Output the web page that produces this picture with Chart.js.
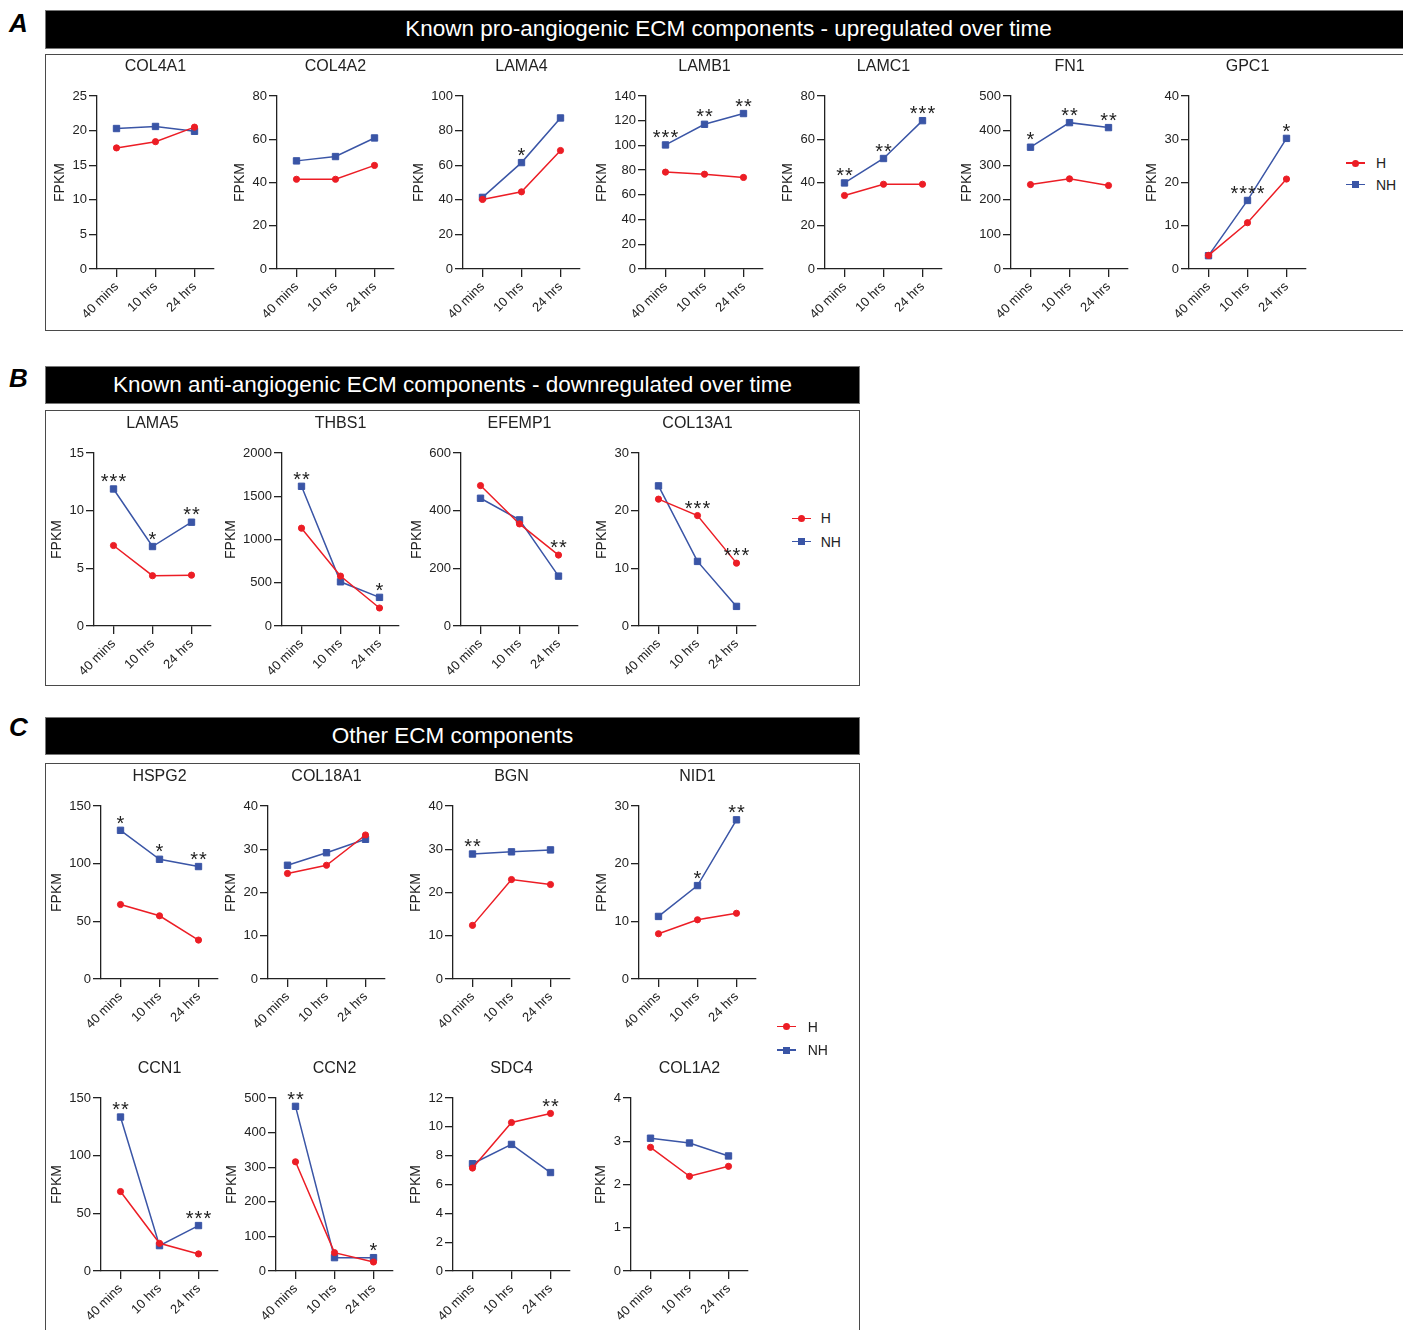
<!DOCTYPE html>
<html><head><meta charset="utf-8">
<script src="https://cdn.jsdelivr.net/npm/chart.js@4.4.1/dist/chart.umd.min.js"></script>
<style>
html,body{margin:0;padding:0;background:#fff;}
body{width:1403px;height:1330px;overflow:hidden;position:relative;font-family:'Liberation Sans',Arial,sans-serif;}
.letter{position:absolute;font-weight:bold;font-style:italic;font-size:26px;line-height:26px;color:#000;}
.bar{position:absolute;background:#000;color:#fff;font-size:22.5px;display:flex;align-items:center;justify-content:center;box-sizing:border-box;border:1px solid #777;white-space:nowrap;}
.box{position:absolute;border:1.6px solid #4a4a4a;box-sizing:border-box;}
canvas{position:absolute;}
.lg{position:absolute;font-size:14px;line-height:16px;color:#222;}
.lg .ln{position:absolute;height:1.5px;width:19px;left:-9.5px;top:-0.75px;}
.lg .mk{position:absolute;width:7px;height:7px;left:-3.5px;top:-3.5px;}
.lg .tx{position:absolute;top:-8px;white-space:nowrap;}
</style></head><body>

<div class="letter" style="left:9px;top:10px;">A</div>
<div class="letter" style="left:9px;top:365px;">B</div>
<div class="letter" style="left:9px;top:714px;">C</div>

<div class="bar" style="left:45px;top:10px;width:1367px;height:38.5px;">Known pro-angiogenic ECM components - upregulated over time</div>
<div class="bar" style="left:45px;top:366px;width:815px;height:38px;">Known anti-angiogenic ECM components - downregulated over time</div>
<div class="bar" style="left:45px;top:717px;width:815px;height:38px;">Other ECM components</div>

<div class="box" style="left:45px;top:54px;width:1400px;height:277px;"></div>
<div class="box" style="left:45px;top:409.5px;width:815px;height:276.5px;"></div>
<div class="box" style="left:45px;top:762.5px;width:815px;height:600px;"></div>

<script>
// ---------------- DATA ----------------
const categories = ['40 mins', '10 hrs', '24 hrs'];
const seriesNames = ['H', 'NH'];

const genesA = ['COL4A1', 'COL4A2', 'LAMA4', 'LAMB1', 'LAMC1', 'FN1', 'GPC1'];
const hA = [
  [17.5, 18.4, 20.5],
  [41.5, 41.5, 47.9],
  [40.2, 44.6, 68.5],
  [78.4, 76.7, 74.1],
  [34.0, 39.2, 39.2],
  [244, 260.6, 241.4],
  [3.15, 10.7, 20.8]
];
const nhA = [
  [20.3, 20.6, 19.9],
  [50.0, 52.0, 60.6],
  [41.4, 61.5, 87.3],
  [100.4, 117.1, 125.8],
  [39.8, 51.1, 68.6],
  [352, 423, 408.7],
  [3.08, 15.85, 30.2]
];
const yMaxA = [25, 80, 100, 140, 80, 500, 40];
const yStepA = [5, 20, 20, 20, 20, 100, 10];
const sigA = [
  ['', '', ''],
  ['', '', ''],
  ['', '*', ''],
  ['***', '**', '**'],
  ['**', '**', '***'],
  ['*', '**', '**'],
  ['', '****', '*']
];

const genesB = ['LAMA5', 'THBS1', 'EFEMP1', 'COL13A1'];
const hB = [
  [6.98, 4.36, 4.41],
  [1131, 577, 208],
  [487, 354, 246],
  [22.0, 19.15, 10.9]
];
const nhB = [
  [11.88, 6.89, 9.0],
  [1615, 511, 331],
  [443, 368, 173],
  [24.3, 11.2, 3.4]
];
const yMaxB = [15, 2000, 600, 30];
const yStepB = [5, 500, 200, 10];
const sigB = [
  ['***', '*', '**'],
  ['**', '', '*'],
  ['', '', '**'],
  ['', '***', '***']
];

const genesC = ['HSPG2', 'COL18A1', 'BGN', 'NID1', 'CCN1', 'CCN2', 'SDC4', 'COL1A2'];
const hC = [
  [64.6, 54.8, 33.75],
  [24.4, 26.3, 33.3],
  [12.4, 23.0, 21.85],
  [7.85, 10.27, 11.4],
  [68.9, 24, 14.8],
  [315.6, 53, 26],
  [7.14, 10.3, 10.93],
  [2.86, 2.19, 2.42]
];
const nhC = [
  [128.9, 103.8, 97.5],
  [26.3, 29.2, 32.3],
  [28.9, 29.4, 29.85],
  [10.85, 16.2, 27.6],
  [133.5, 22, 39.4],
  [475.9, 38.6, 38.6],
  [7.44, 8.78, 6.83],
  [3.07, 2.96, 2.66]
];
const yMaxC = [150, 40, 40, 30, 150, 500, 12, 4];
const yStepC = [50, 10, 10, 10, 50, 100, 2, 1];
const sigC = [
  ['*', '*', '**'],
  ['', '', ''],
  ['**', '', ''],
  ['', '*', '**'],
  ['**', '', '***'],
  ['**', '', '*'],
  ['', '', '**'],
  ['', '', '']
];

// ---------------- LAYOUT (positions only) ----------------
const axisXA = [96.7, 276.7, 462.7, 645.7, 825, 1010.7, 1189.3];
const plotTopA = 95.7;
const axisXB = [94.3, 282, 460.7, 638.7];
const plotTopB = 452.7;
const axisXC = [101, 268.3, 453.3, 638.7, 100.7, 275.7, 453.3, 631];
const plotTopC = [805.7, 805.7, 805.7, 805.7, 1097.7, 1097.7, 1097.7, 1097.7];

const RED = '#EC1D25';
const BLUE = '#3A55A6';
const INK = '#222';
const FAM = "'Liberation Sans', Arial, Helvetica, sans-serif";

const measureCtx = document.createElement('canvas').getContext('2d');
function textW(t, size) { measureCtx.font = size + 'px ' + FAM; return measureCtx.measureText(t).width; }
function fmt(v) { return String(Math.round(v * 1000) / 1000); }

function makeChart(gene, h, nh, ymax, ystep, sig, axisX, plotTop) {
  const Yw = 62, T = 43, XH = 70, PW = 117, PH = 173, R = 8;
  const canvas = document.createElement('canvas');
  const W = Yw + PW + R, Hc = T + PH + XH;
  canvas.width = W; canvas.height = Hc;
  canvas.style.width = W + 'px'; canvas.style.height = Hc + 'px';
  canvas.style.left = Math.round(axisX - Yw) + 'px';
  canvas.style.top = Math.round(plotTop - T) + 'px';
  document.body.appendChild(canvas);

  // widest tick label
  let lw = 0;
  for (let v = 0; v <= ymax + 1e-9; v += ystep) lw = Math.max(lw, textW(fmt(v), 13));
  const dist = lw + 22.3;
  const titlePadTop = Math.max(0, Yw - dist - 8.4);

  const starPlugin = {
    id: 'stars',
    afterDatasetsDraw(chart) {
      const ctx = chart.ctx;
      const xs = chart.scales.x, ys = chart.scales.y;
      ctx.save();
      ctx.fillStyle = INK;
      ctx.font = '20px ' + FAM;
      ctx.textAlign = 'center';
      ctx.textBaseline = 'alphabetic';
      try { ctx.letterSpacing = '1px'; } catch (e) {}
      sig.forEach((s, i) => {
        if (!s) return;
        const top = Math.max(h[i], nh[i]);
        const x = xs.getPixelForValue(i);
        const y = ys.getPixelForValue(top);
        ctx.fillText(s, x + 0.5, y - 0.8);
      });
      ctx.restore();
    }
  };

  const gridOpts = { display: true, drawOnChartArea: false, drawTicks: true, tickLength: 8, color: INK, lineWidth: 1.3 };
  const borderOpts = { display: true, color: INK, width: 1.3 };

  new Chart(canvas, {
    type: 'line',
    data: {
      labels: categories,
      datasets: [
        { label: seriesNames[0], data: h, borderColor: RED, backgroundColor: RED, pointBorderColor: RED,
          pointBackgroundColor: RED, pointStyle: 'circle', pointRadius: 3.1, pointBorderWidth: 1,
          borderWidth: 1.5, tension: 0, clip: false },
        { label: seriesNames[1], data: nh, borderColor: BLUE, backgroundColor: BLUE, pointBorderColor: BLUE,
          pointBackgroundColor: BLUE, pointStyle: 'rect', pointRadius: 4.5, pointBorderWidth: 1,
          borderWidth: 1.5, tension: 0, clip: false }
      ]
    },
    options: {
      responsive: false, maintainAspectRatio: false, animation: false, devicePixelRatio: 1,
      events: [],
      layout: { padding: { left: 0, right: R, top: 0, bottom: 0 } },
      plugins: {
        legend: { display: false },
        tooltip: { enabled: false },
        title: { display: true, text: gene, fullSize: false, color: INK,
                 font: { family: FAM, size: 16, weight: 'normal' },
                 padding: { top: 4, bottom: 19.8 } }
      },
      scales: {
        x: {
          type: 'category', offset: true,
          grid: gridOpts, border: borderOpts,
          ticks: { font: { family: FAM, size: 13 }, color: INK, minRotation: 45, maxRotation: 45, padding: 2, autoSkip: false },
          afterFit: s => { s.height = XH; }
        },
        y: {
          min: 0, max: ymax,
          grid: gridOpts, border: borderOpts,
          ticks: { stepSize: ystep, font: { family: FAM, size: 13 }, color: INK, padding: 2, callback: v => fmt(v) },
          title: { display: true, text: 'FPKM', color: INK, font: { family: FAM, size: 14 }, padding: { top: titlePadTop, bottom: 0 } },
          afterFit: s => { s.width = Yw; }
        }
      }
    },
    plugins: [starPlugin]
  });
}

genesA.forEach((g, i) => makeChart(g, hA[i], nhA[i], yMaxA[i], yStepA[i], sigA[i], axisXA[i], plotTopA));
genesB.forEach((g, i) => makeChart(g, hB[i], nhB[i], yMaxB[i], yStepB[i], sigB[i], axisXB[i], plotTopB));
genesC.forEach((g, i) => makeChart(g, hC[i], nhC[i], yMaxC[i], yStepC[i], sigC[i], axisXC[i], plotTopC[i]));

// ---------------- LEGENDS ----------------
const legendPos = [
  { x: 1355.5, y: [163, 184.5], tx: 1376 },
  { x: 801, y: [518.3, 541.7], tx: 820.7 },
  { x: 786.7, y: [1026.7, 1050], tx: 807.7 }
];
const legendColors = [RED, BLUE];
legendPos.forEach(p => {
  seriesNames.forEach((name, k) => {
    const d = document.createElement('div');
    d.className = 'lg';
    d.style.left = p.x + 'px';
    d.style.top = p.y[k] + 'px';
    const c = legendColors[k];
    d.innerHTML = '<span class="ln" style="background:' + c + '"></span>' +
      '<span class="mk" style="background:' + c + ';border-radius:' + (k === 0 ? '50%' : '0') + '"></span>' +
      '<span class="tx" style="left:' + (p.tx - p.x) + 'px">' + name + '</span>';
    document.body.appendChild(d);
  });
});
</script>
</body></html>
